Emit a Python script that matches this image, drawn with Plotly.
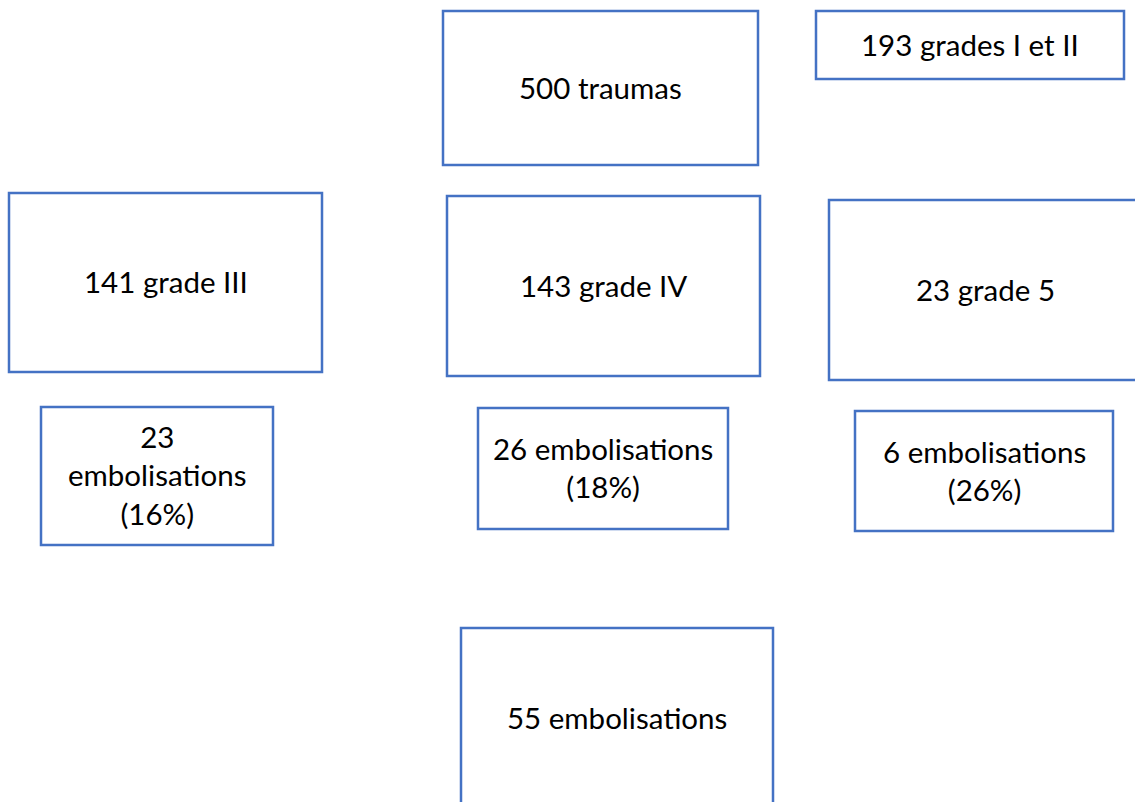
import plotly.graph_objects as go

# Box labels (flowchart content)
labels = [
    "500 traumas",
    "193 grades I et II",
    "141 grade III",
    "143 grade IV",
    "23 grade 5",
    "23<br>embolisations<br>(16%)",
    "26 embolisations<br>(18%)",
    "6 embolisations<br>(26%)",
    "55 embolisations",
]

# Layout of boxes in page pixels: left, top, right, bottom
box_x0 = [443, 816, 9, 447, 829, 41, 478, 855, 461]
box_y0 = [11, 11, 193, 196, 200, 407, 408, 411, 628]
box_x1 = [758, 1124, 322, 760, 1141, 273, 728, 1113, 773]
box_y1 = [165, 79, 372, 376, 380, 545, 529, 531, 808]

W, H = 1135, 802
LINE = "#4472C4"

fig = go.Figure()
fig.add_trace(go.Scatter(x=[0, W], y=[0, H], mode="markers",
                         marker=dict(opacity=0), hoverinfo="skip", showlegend=False))

for lab, x0, y0, x1, y1 in zip(labels, box_x0, box_y0, box_x1, box_y1):
    fig.add_shape(type="rect", x0=x0, y0=y0, x1=x1, y1=y1, xref="x", yref="y",
                  line=dict(color=LINE, width=2.5), fillcolor="rgba(0,0,0,0)")
    fig.add_annotation(x=(x0 + x1) / 2, y=(y0 + y1) / 2 - 1, xref="x", yref="y",
                       text=lab, showarrow=False,
                       font=dict(family="Lato", size=29.5, color="#000000"),
                       align="center")

fig.update_xaxes(range=[0, W], visible=False, fixedrange=True)
fig.update_yaxes(range=[H, 0], visible=False, fixedrange=True)
fig.update_layout(width=W, height=H, margin=dict(l=0, r=0, t=0, b=0),
                  plot_bgcolor="white", paper_bgcolor="white")

fig.write_html("out.html", config={"displayModeBar": False},
               post_script="document.body.style.margin='0';document.body.style.overflow='hidden';")
